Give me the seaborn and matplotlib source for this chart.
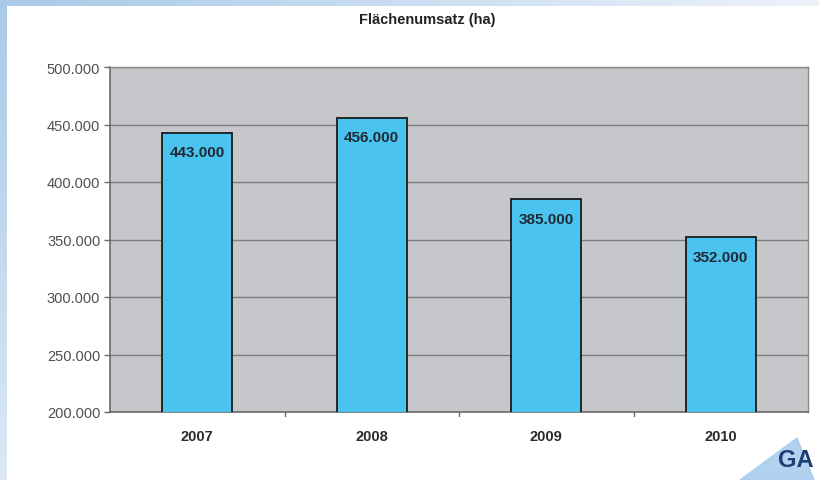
import numpy as np
import pandas as pd
import matplotlib
matplotlib.use("Agg")
import matplotlib.pyplot as plt
from matplotlib.ticker import FuncFormatter
from matplotlib.patches import Polygon
import seaborn as sns

years = ["2007", "2008", "2009", "2010"]
area_ha = [443000, 456000, 385000, 352000]
y_ticks = [200000, 250000, 300000, 350000, 400000, 450000, 500000]
title = "Flächenumsatz (ha)"

df = pd.DataFrame({"Jahr": years, "Fläche": area_ha})

sns.set_theme(style="white")
plt.rcParams["font.family"] = ["Liberation Sans", "DejaVu Sans"]

W, H = 819, 481
fig = plt.figure(figsize=(W / 100, H / 100), dpi=100)

# soft blue frame along the top and left edge
bg = fig.add_axes([0, 0, 1, 1], zorder=-10)
img = np.ones((H, W, 3))
blue = np.array([0.66, 0.79, 0.91])
xs = np.linspace(0, 1, W)[None, :, None]
ys = np.linspace(0, 1, H)[:, None, None]
top = blue + (np.array([0.93, 0.95, 0.98]) - blue) * xs
img[:7, :, :] = top[0]
left = blue + (np.array([0.86, 0.91, 0.96]) - blue) * ys
img[:, :7, :] = left[:, 0][:, None, :]
bg.imshow(img, aspect="auto", extent=[0, W, H, 0])
bg.set_axis_off()

ax = fig.add_axes([110 / W, 1 - 413 / H, (808 - 110) / W, (413 - 68) / H])
ax.set_facecolor("#c5c7ca")

sns.barplot(data=df, x="Jahr", y="Fläche", order=years, ax=ax,
            color="#4ac3ee", saturation=1, width=0.4,
            edgecolor="#1a1a1a", linewidth=1.3, zorder=3)

ax.set_xlim(-0.5, len(years) - 0.5)
ax.set_ylim(y_ticks[0], y_ticks[-1])
ax.set_yticks(y_ticks)
ax.yaxis.set_major_formatter(FuncFormatter(lambda v, p: f"{int(v):,}".replace(",", ".")))
ax.grid(axis="y", color="#7d7d7d", linewidth=1.0, zorder=1)
ax.set_axisbelow(True)

for s in ["left", "bottom"]:
    ax.spines[s].set_color("#6a6a6a")
    ax.spines[s].set_linewidth(1.2)
for s in ["top", "right"]:
    ax.spines[s].set_color("#8a8a8a")
    ax.spines[s].set_linewidth(1.0)

ax.tick_params(axis="y", length=4, width=1, color="#6a6a6a", labelsize=10.5,
               labelcolor="#505050", pad=3, left=True)
ax.set_xticks(range(len(years)))
ax.set_xticklabels(years, fontweight="bold", fontsize=10.5, color="#2a2a2a")
ax.tick_params(axis="x", length=0, pad=12)
for b in np.arange(0.5, len(years) - 0.5, 1):
    ax.plot([b, b], [0, -0.012], transform=ax.get_xaxis_transform(),
            color="#6a6a6a", lw=1, clip_on=False)
ax.set_xlabel("")
ax.set_ylabel("")

for i, v in enumerate(area_ha):
    ax.annotate(f"{v:,}".replace(",", "."), xy=(i, v), xytext=(0, -14),
                textcoords="offset points", ha="center", va="center",
                fontsize=11, fontweight="bold", color="#1f2a35", zorder=5)

fig.text(427 / W, 1 - 20 / H, title, ha="center", va="center",
         fontsize=10.5, fontweight="bold", color="#222222")

# logo in the lower right corner
logo = fig.add_axes([0, 0, 1, 1], zorder=5)
logo.set_xlim(0, W)
logo.set_ylim(H, 0)
logo.set_axis_off()
logo.add_patch(Polygon([[740, 481], [797, 439], [814, 481]],
                       closed=True, color="#a9cdee", alpha=0.9))
logo.text(778, 461, "GA", fontsize=17, fontweight="bold", color="#1d3d73",
          ha="left", va="center")

fig.savefig("out.png", dpi=100)
